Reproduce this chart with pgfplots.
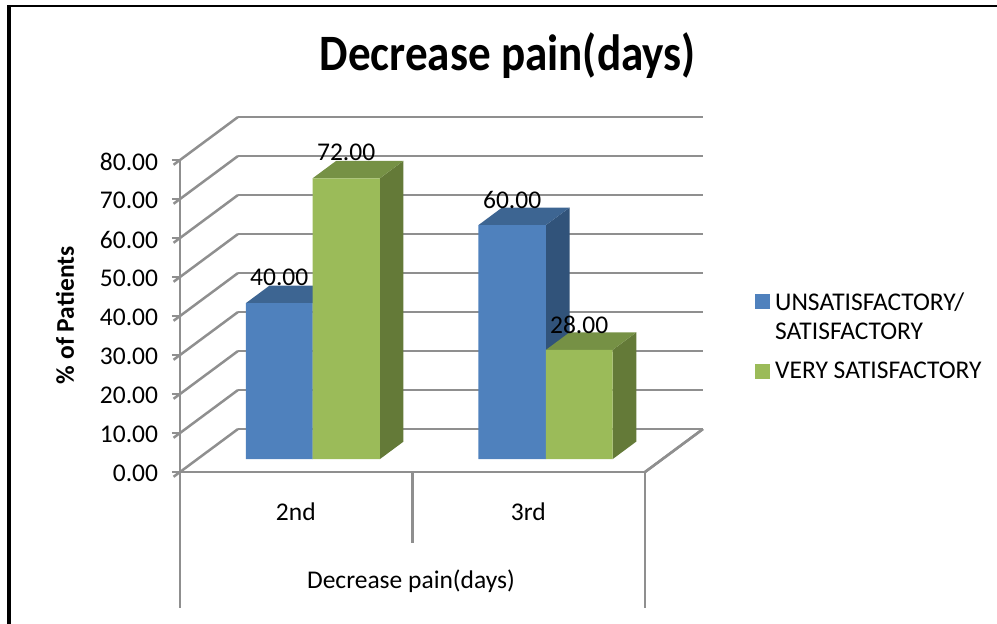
\documentclass[border=0pt]{standalone}
\usepackage{pgfplots}
\pgfplotsset{compat=1.18}
\usepackage{fontspec}
\setmainfont{Carlito}
\newfontfamily\titlefont[FakeStretch=0.885]{Carlito}
\definecolor{gridc}{HTML}{8F8F8F}
\definecolor{blueF}{HTML}{4F81BD}
\definecolor{blueT}{HTML}{3D6592}
\definecolor{blueS}{HTML}{31537A}
\definecolor{greenF}{HTML}{9BBB59}
\definecolor{greenT}{HTML}{769145}
\definecolor{greenS}{HTML}{647A38}
% one axis unit: a category is 232.5 px wide, depth runs (58,43) px, 1 % is 3.9 px
\begin{document}
\begin{tikzpicture}
\begin{axis}[
    x={(232.5pt,0pt)}, y={(58pt,43pt)}, z={(0pt,3.9pt)},
    xmin=0, xmax=2, ymin=0, ymax=1, zmin=0, zmax=80,
    clip=false,
    axis lines=left,
    axis line style={-, draw=gridc, line width=2.5pt},
    ytick=\empty,
    xtick={0.5,1.5}, xticklabels={2nd,3rd},
    xtick style={draw=none},
    xticklabel style={font=\fontsize{25.5}{28}\selectfont, anchor=center, yshift=-35pt, xshift=6pt},
    ztick={0,10,...,80},
    ztick style={draw=gridc, line width=2.5pt},
    tick align=outside,
    major tick length=8pt,
    zticklabel style={font=\fontsize{25.5}{28}\selectfont, anchor=east, xshift=-12pt, yshift=3pt},
    /pgf/number format/assume math mode=true,
    zticklabel={\pgfmathprintnumber[fixed,fixed zerofill,precision=2]{\tick}},
    zmajorgrids=true,
    grid style={draw=gridc, line width=2.5pt},
    legend cell align=left,
    legend style={draw=none, fill=none, anchor=north west,
        at={(axis cs:2.46,0,47.6)},
        font=\fontsize{25.5}{29}\selectfont, row sep=46pt, column sep=4pt},
]
\addlegendimage{only marks, mark=square*, mark size=7pt, mark options={draw=blueF, fill=blueF, line width=0pt}}
\addlegendimage{only marks, mark=square*, mark size=7pt, mark options={draw=greenF, fill=greenF, line width=0pt}}
\legend{{\begin{tabular}[t]{@{}l@{}}UNSATISFACTORY/\\SATISFACTORY\end{tabular}},VERY SATISFACTORY}

% floor edge and the category separators under the axis
\addplot3[forget plot, draw=gridc, line width=2.5pt] coordinates {(2,0,0) (2,1,0)};
\addplot3[forget plot, draw=gridc, line width=2.5pt] coordinates {(0,0,0) (0,0,-34.9)};
\addplot3[forget plot, draw=gridc, line width=2.5pt] coordinates {(1,0,0) (1,0,-18.2)};
\addplot3[forget plot, draw=gridc, line width=2.5pt] coordinates {(2,0,0) (2,0,-34.9)};

% 2nd, unsatisfactory
\addplot3[forget plot, fill=blueS, draw=none] coordinates {(0.4955,0.3,0) (0.4955,0.707,0) (0.4955,0.707,40) (0.4955,0.3,40) (0.4955,0.3,0)};
\addplot3[forget plot, fill=blueT, draw=none] coordinates {(0.2086,0.3,40) (0.4955,0.3,40) (0.4955,0.707,40) (0.2086,0.707,40) (0.2086,0.3,40)};
\addplot3[forget plot, fill=blueF, draw=none] coordinates {(0.2086,0.3,0) (0.4955,0.3,0) (0.4955,0.3,40) (0.2086,0.3,40) (0.2086,0.3,0)};
% 2nd, very satisfactory
\addplot3[forget plot, fill=greenS, draw=none] coordinates {(0.7849,0.3,0) (0.7849,0.707,0) (0.7849,0.707,72) (0.7849,0.3,72) (0.7849,0.3,0)};
\addplot3[forget plot, fill=greenT, draw=none] coordinates {(0.4955,0.3,72) (0.7849,0.3,72) (0.7849,0.707,72) (0.4955,0.707,72) (0.4955,0.3,72)};
\addplot3[forget plot, fill=greenF, draw=none] coordinates {(0.4955,0.3,0) (0.7849,0.3,0) (0.7849,0.3,72) (0.4955,0.3,72) (0.4955,0.3,0)};
% 3rd, unsatisfactory
\addplot3[forget plot, fill=blueS, draw=none] coordinates {(1.4989,0.3,0) (1.4989,0.707,0) (1.4989,0.707,60) (1.4989,0.3,60) (1.4989,0.3,0)};
\addplot3[forget plot, fill=blueT, draw=none] coordinates {(1.2086,0.3,60) (1.4989,0.3,60) (1.4989,0.707,60) (1.2086,0.707,60) (1.2086,0.3,60)};
\addplot3[forget plot, fill=blueF, draw=none] coordinates {(1.2086,0.3,0) (1.4989,0.3,0) (1.4989,0.3,60) (1.2086,0.3,60) (1.2086,0.3,0)};
% 3rd, very satisfactory
\addplot3[forget plot, fill=greenS, draw=none] coordinates {(1.786,0.3,0) (1.786,0.707,0) (1.786,0.707,28) (1.786,0.3,28) (1.786,0.3,0)};
\addplot3[forget plot, fill=greenT, draw=none] coordinates {(1.4989,0.3,28) (1.786,0.3,28) (1.786,0.707,28) (1.4989,0.707,28) (1.4989,0.3,28)};
\addplot3[forget plot, fill=greenF, draw=none] coordinates {(1.4989,0.3,0) (1.786,0.3,0) (1.786,0.3,28) (1.4989,0.3,28) (1.4989,0.3,0)};

% value labels
\addplot3[forget plot, draw=none, mark=none, point meta=z, nodes near coords,
    nodes near coords style={/pgf/number format/fixed, /pgf/number format/fixed zerofill, /pgf/number format/precision=2,
        font=\fontsize{25.5}{28}\selectfont, anchor=center, yshift=25.5pt}]
    coordinates {(0.352,0.3,40) (0.64,0.3,72) (1.354,0.3,60) (1.642,0.3,28)};

% picture frame and page size (px/3.9 and px/232.5 from the front corner)
\path (axis cs:-0.7742,0,-38.97) rectangle (axis cs:3.514,0,121.03);
\fill[black] (axis cs:-0.7452,0,-38.97) rectangle (axis cs:-0.7280,0,119.7);
\fill[black] (axis cs:-0.7452,0,119.7) rectangle (axis cs:3.514,0,119.2);

\node[font=\titlefont\bfseries\fontsize{51}{54}\selectfont] at (axis cs:1.41,0,106.9) {Decrease pain(days)};
\node[font=\bfseries\fontsize{25.5}{28}\selectfont, rotate=90] at (axis cs:-0.4946,0,40.2) {\% of Patients};
\node[font=\fontsize{25.5}{28}\selectfont] at (axis cs:0.9935,0,-28) {Decrease pain(days)};
\end{axis}
\end{tikzpicture}
\end{document}
